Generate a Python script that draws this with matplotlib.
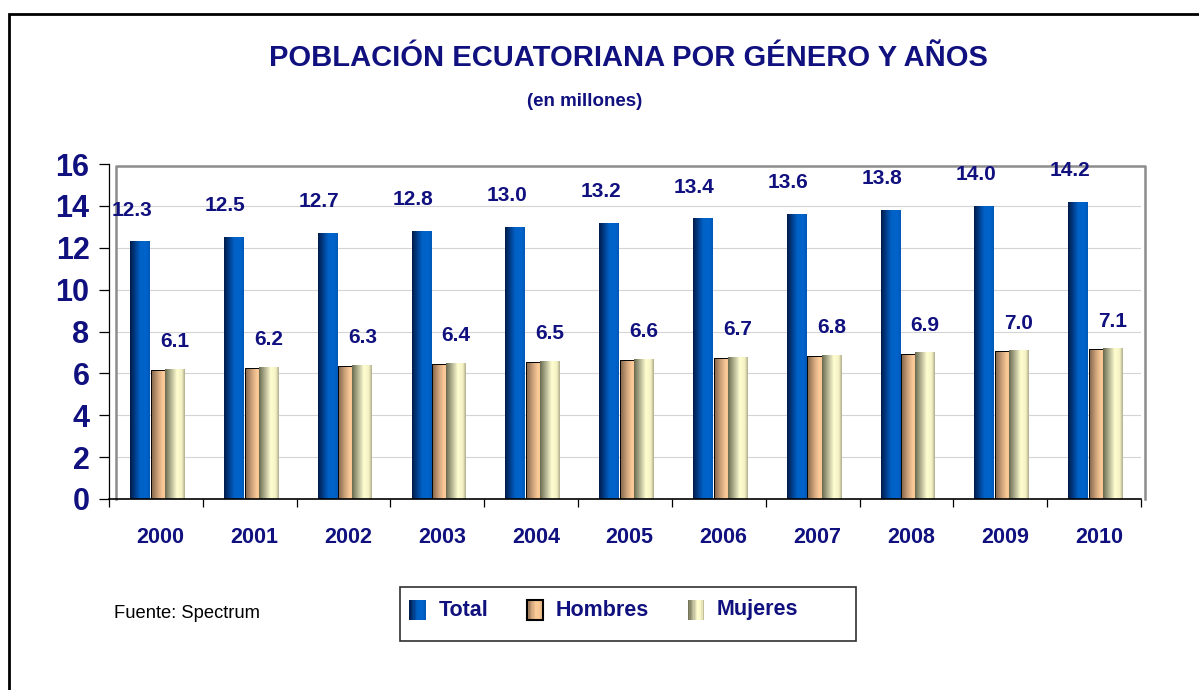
import numpy as np
import matplotlib.pyplot as plt
from matplotlib.colors import LinearSegmentedColormap
from matplotlib.patches import Rectangle
from matplotlib.legend_handler import HandlerBase

plt.rcParams['font.family'] = ['Liberation Sans', 'DejaVu Sans']

years = ['2000', '2001', '2002', '2003', '2004', '2005', '2006', '2007', '2008', '2009', '2010']
total = [12.3, 12.5, 12.7, 12.8, 13.0, 13.2, 13.4, 13.6, 13.8, 14.0, 14.2]
hombres = [6.1, 6.2, 6.3, 6.4, 6.5, 6.6, 6.7, 6.8, 6.9, 7.0, 7.1]
mujeres = [6.2, 6.3, 6.4, 6.5, 6.6, 6.7, 6.8, 6.9, 7.0, 7.1, 7.2]
yticks = [0, 2, 4, 6, 8, 10, 12, 14, 16]

NAVY = '#10107f'

cm_total = LinearSegmentedColormap.from_list(
    'total', [(0, '#001c48'), (0.25, '#003c88'), (0.5, '#0060c4'), (0.8, '#0064cc'), (1, '#0058b8')])
cm_hombres = LinearSegmentedColormap.from_list(
    'hombres', [(0, '#8a6c50'), (0.3, '#d0a47c'), (0.55, '#fcca98'), (0.85, '#f8c490'), (1, '#c09870')])
cm_mujeres = LinearSegmentedColormap.from_list(
    'mujeres', [(0, '#6a6a50'), (0.3, '#b4b494'), (0.6, '#fffed0'), (0.85, '#f4f2c4'), (1, '#b0ae8c')])


def shade(ax, bars, cmap):
    grad = np.linspace(0, 1, 64).reshape(1, -1)
    for b in bars:
        x0, y0 = b.get_x(), b.get_y()
        w, h = b.get_width(), b.get_height()
        im = ax.imshow(grad, extent=[x0, x0 + w, y0, y0 + h], cmap=cmap,
                       aspect='auto', zorder=b.get_zorder() + 0.1, interpolation='bilinear')
        im.set_clip_path(b)


class GradHandler(HandlerBase):
    def __init__(self, cmap, edge=None):
        super().__init__()
        self.cmap = cmap
        self.edge = edge

    def create_artists(self, legend, orig_handle, xdescent, ydescent, width, height, fontsize, trans):
        arts = []
        n = 12
        for i in range(n):
            r = Rectangle((-xdescent + width * i / n, -ydescent - 4), width / n + 0.3, height + 5,
                          facecolor=self.cmap((i + 0.5) / n), edgecolor='none', transform=trans)
            arts.append(r)
        if self.edge:
            arts.append(Rectangle((-xdescent, -ydescent - 4), width, height + 5, facecolor='none',
                                  edgecolor=self.edge, lw=1.5, transform=trans))
        return arts


fig = plt.figure(figsize=(11.99, 6.90), dpi=100)
W, H = 1199, 690

# outer border
fig.patches.append(Rectangle((9 / W, -0.01), 1.02, 1 - 14 / H + 0.01, transform=fig.transFigure,
                             fill=False, edgecolor='black', lw=2))

ax = fig.add_axes([109 / W, 1 - 499 / H, (1141 - 109) / W, (499 - 164) / H])

x = np.arange(len(years))
bw = 0.21
b_total = ax.bar(x - 0.17, total, bw, color='#0060c0', zorder=3)
b_muj = ax.bar(x + 0.20, mujeres, bw, color='#fffed0', zorder=4)
b_hom = ax.bar(x + 0.06, hombres, bw, color='#f8c490', edgecolor='black', lw=1.4, zorder=3)
shade(ax, b_total, cm_total)
shade(ax, b_hom, cm_hombres)
shade(ax, b_muj, cm_mujeres)

for i in range(len(years)):
    ax.text(x[i] - 0.26, total[i] + 1.5, f'{total[i]:.1f}', ha='center', va='center',
            fontsize=15, fontweight='bold', color=NAVY, zorder=6)
    ax.text(x[i] + 0.20, hombres[i] + 1.4, f'{hombres[i]:.1f}', ha='center', va='center',
            fontsize=15, fontweight='bold', color=NAVY, zorder=6)

ax.set_xlim(-0.5, len(years) - 0.5)
ax.set_ylim(0, 16)

# walls and grid
for t in yticks[1:-1]:
    ax.axhline(t, xmin=0.007, xmax=1.0, color='#d4d4d4', lw=0.8, zorder=1)
ax.plot([0.007, 0.007, 1.004, 1.004], [0, 0.993, 0.993, 0], transform=ax.transAxes,
        color='#8c8c8c', lw=1.8, clip_on=False, zorder=2)

for s in ['top', 'right']:
    ax.spines[s].set_visible(False)
ax.spines['left'].set_color('black')
ax.spines['left'].set_linewidth(0.9)
ax.spines['bottom'].set_color('black')
ax.spines['bottom'].set_linewidth(1.2)
ax.spines['bottom'].set_zorder(5)

ax.set_yticks(yticks)
ax.set_yticklabels([str(t) for t in yticks], fontsize=22, fontweight='bold', color=NAVY)
ax.tick_params(axis='y', direction='out', length=7, width=0.9, pad=7)

ax.set_xticks(x + 0.05)
ax.set_xticklabels(years, fontsize=15.5, fontweight='bold', color=NAVY)
ax.tick_params(axis='x', which='major', length=0, pad=20)
ax.set_xticks(np.arange(-0.5, len(years)), minor=True)
ax.tick_params(axis='x', which='minor', direction='out', length=6, width=0.9)

fig.text(628 / W, 1 - 58 / H, 'POBLACIÓN ECUATORIANA POR GÉNERO Y AÑOS', ha='center', va='center',
         fontsize=21, fontweight='bold', color=NAVY)
fig.text(585 / W, 1 - 101 / H, '(en millones)', ha='center', va='center',
         fontsize=13.5, fontweight='bold', color=NAVY)
fig.text(114 / W, 1 - 613 / H, 'Fuente: Spectrum', ha='left', va='center', fontsize=13.2, color='black')

# legend
fig.patches.append(Rectangle((400 / W, 1 - 641 / H), 456 / W, 54 / H, transform=fig.transFigure,
                             fill=False, edgecolor='#303030', lw=1.2))
h_total = Rectangle((0, 0), 1, 1)
h_hom = Rectangle((0, 0), 1, 1)
h_muj = Rectangle((0, 0), 1, 1)
leg = fig.legend([h_total, h_hom, h_muj], ['Total', 'Hombres', 'Mujeres'],
                 handler_map={h_total: GradHandler(cm_total),
                              h_hom: GradHandler(cm_hombres, edge='black'),
                              h_muj: GradHandler(cm_mujeres)},
                 loc='center left', bbox_to_anchor=(405 / W, 1 - 610 / H), ncol=3, frameon=False,
                 prop={'size': 15.5, 'weight': 'bold'}, handlelength=0.75, handleheight=0.6,
                 handletextpad=0.6, columnspacing=1.8, borderaxespad=0, borderpad=0.2)
for t in leg.get_texts():
    t.set_color(NAVY)

fig.savefig('out.png', dpi=100)
